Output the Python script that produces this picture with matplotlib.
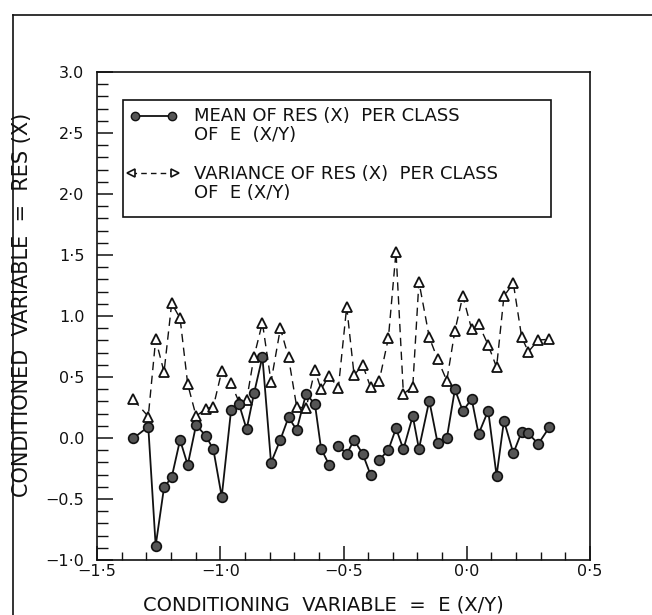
import numpy as np
import matplotlib
matplotlib.use("Agg")
import matplotlib.pyplot as plt
from matplotlib.lines import Line2D
from matplotlib.ticker import MultipleLocator, FixedLocator, FixedFormatter

plt.rcParams['font.family'] = ['DejaVu Sans']

# Class centres of E(X/Y)
class_centres = [-1.353, -1.292, -1.262, -1.228, -1.197, -1.163, -1.132, -1.098, -1.058, -1.028,
                 -0.994, -0.956, -0.924, -0.893, -0.863, -0.829, -0.794, -0.756, -0.723, -0.690,
                 -0.652, -0.616, -0.591, -0.558, -0.521, -0.487, -0.457, -0.422, -0.390, -0.355,
                 -0.318, -0.287, -0.257, -0.219, -0.194, -0.152, -0.118, -0.081, -0.048, -0.016,
                 0.020, 0.048, 0.087, 0.121, 0.151, 0.189, 0.223, 0.250, 0.290, 0.335]

# Mean of RES(X) per class
mean_res = [-0.003, 0.093, -0.883, -0.404, -0.322, -0.016, -0.221, 0.107, 0.016, -0.093,
            -0.481, 0.230, 0.279, 0.071, 0.366, 0.666, -0.202, -0.013, 0.170, 0.066,
            0.361, 0.279, -0.087, -0.221, -0.063, -0.131, -0.016, -0.131, -0.303, -0.180,
            -0.098, 0.079, -0.093, 0.180, -0.089, 0.306, -0.043, -0.002, 0.399, 0.221,
            0.320, 0.033, 0.224, -0.309, 0.142, -0.125, 0.052, 0.038, -0.049, 0.088]

# Variance of RES(X) per class
var_res = [0.317, 0.176, 0.809, 0.541, 1.104, 0.981, 0.441, 0.180, 0.239, 0.257,
           0.547, 0.448, 0.295, 0.311, 0.668, 0.945, 0.461, 0.899, 0.660, 0.257,
           0.243, 0.557, 0.399, 0.512, 0.407, 1.076, 0.516, 0.598, 0.415, 0.470,
           0.817, 1.527, 0.361, 0.421, 1.281, 0.825, 0.645, 0.470, 0.880, 1.164,
           0.891, 0.934, 0.762, 0.580, 1.164, 1.268, 0.825, 0.707, 0.803, 0.809]

# indices where the mean curve is not joined to the previous class
mean_breaks = [24, 29]

y_tick_values = [3.0, 2.5, 2.0, 1.5, 1.0, 0.5, 0.0, -0.5, -1.0]
y_tick_labels = ["3.0", "2·5", "2·0", "1·5", "1.0", "0·5", "0.0", "\u22120.5", "\u22121·0"]
x_tick_values = [-1.5, -1.0, -0.5, 0.0, 0.5]
x_tick_labels = ["\u22121·5", "\u22121·0", "\u22120·5", "0·0", "0·5"]

W, H = 652, 615
fig = plt.figure(figsize=(W / 100, H / 100), dpi=100)

# axes box in pixels: left 97, right 590, top 72, bottom 560
ax_l, ax_r, ax_t, ax_b = 97, 590, 72, 560
ax = fig.add_axes([ax_l / W, 1 - ax_b / H, (ax_r - ax_l) / W, (ax_b - ax_t) / H])
ax.set_xlim(-1.5, 0.5)
ax.set_ylim(-1.0, 3.0)

ink = '#111111'
for s in ax.spines.values():
    s.set_linewidth(1.2)
    s.set_color(ink)

# variance curve (dashed, open triangles)
ax.plot(class_centres, var_res, linestyle=(0, (6, 4)), color=ink, linewidth=1.0,
        marker='^', markersize=7.5, markerfacecolor='white', markeredgecolor=ink,
        markeredgewidth=1.3, zorder=3)

# mean curve (solid, filled circles), drawn piecewise
xs = np.asarray(class_centres)
ys = np.asarray(mean_res)
for seg_x, seg_y in zip(np.split(xs, mean_breaks), np.split(ys, mean_breaks)):
    ax.plot(seg_x, seg_y, '-', color=ink, linewidth=1.3, zorder=4)
ax.plot(xs, ys, linestyle='none', marker='o', markersize=7,
        markerfacecolor='#555555', markeredgecolor=ink, markeredgewidth=1.2, zorder=5)

# ticks
ax.xaxis.set_major_locator(FixedLocator(x_tick_values))
ax.xaxis.set_major_formatter(FixedFormatter(x_tick_labels))
ax.xaxis.set_minor_locator(MultipleLocator(0.1))
ax.yaxis.set_major_locator(FixedLocator(y_tick_values))
ax.yaxis.set_major_formatter(FixedFormatter(y_tick_labels))
ax.yaxis.set_minor_locator(MultipleLocator(0.1))
ax.tick_params(axis='x', which='major', direction='in', length=10, width=1.1,
               labelsize=11.5, pad=3, color=ink, labelcolor=ink)
ax.tick_params(axis='x', which='minor', direction='in', length=6, width=1.0, color=ink)
ax.tick_params(axis='y', which='major', direction='in', length=11.5, width=1.1,
               labelsize=11.5, pad=9, color=ink, labelcolor=ink)
ax.tick_params(axis='y', which='minor', direction='in', length=8, width=1.0, color=ink)
ax.tick_params(top=False, right=False, which='both')

# axis titles
fig.text(323 / W, 1 - 605 / H, "CONDITIONING  VARIABLE  =  E (X/Y)", fontsize=14,
         color=ink, ha='center', va='center')
fig.text(22 / W, 1 - 305 / H, "CONDITIONED  VARIABLE  =  RES (X)", fontsize=15,
         color=ink, ha='center', va='center', rotation=90)

# legend box
def ax_frac(px, py):
    return (px - ax_l) / (ax_r - ax_l), (ax_b - py) / (ax_b - ax_t)

bx0, by0 = ax_frac(123, 217)
bx1, by1 = ax_frac(551, 100)
ax.add_patch(plt.Rectangle((bx0, by0), bx1 - bx0, by1 - by0, transform=ax.transAxes,
                           fill=True, facecolor='white', edgecolor=ink, linewidth=1.2, zorder=6))

lx0, ly = ax_frac(135, 116)
lx1, _ = ax_frac(172, 116)
ax.plot([lx0, lx1], [ly, ly], '-', color=ink, linewidth=1.3, transform=ax.transAxes,
        marker='o', markersize=6, markerfacecolor='#555555', markeredgecolor=ink, zorder=7)

vx0, vy = ax_frac(131, 173)
vx1, _ = ax_frac(175, 173)
ax.plot([vx0, vx1], [vy, vy], linestyle=(0, (4, 3)), color=ink, linewidth=1.0,
        transform=ax.transAxes, zorder=7)
ax.plot([vx0], [vy], marker='<', markersize=6, markerfacecolor='white',
        markeredgecolor=ink, markeredgewidth=1.2, transform=ax.transAxes, zorder=8)
ax.plot([vx1], [vy], marker='>', markersize=6, markerfacecolor='white',
        markeredgecolor=ink, markeredgewidth=1.2, transform=ax.transAxes, zorder=8)

tx, _ = ax_frac(194, 0)
for text, py in [("MEAN OF RES (X)  PER CLASS", 116), ("OF  E  (X/Y)", 135),
                 ("VARIANCE OF RES (X)  PER CLASS", 174), ("OF  E (X/Y)", 193)]:
    _, ty = ax_frac(0, py)
    ax.text(tx, ty, text, transform=ax.transAxes, fontsize=13, color=ink,
            ha='left', va='center', zorder=8)

# outer frame (left and top edges)
fx = 13 / W
fy = 1 - 15 / H
fig.add_artist(Line2D([fx, fx], [0, fy], color=ink, linewidth=1.2, transform=fig.transFigure))
fig.add_artist(Line2D([fx, 1], [fy, fy], color=ink, linewidth=1.2, transform=fig.transFigure))

fig.savefig("out.png", dpi=100, facecolor='white')
